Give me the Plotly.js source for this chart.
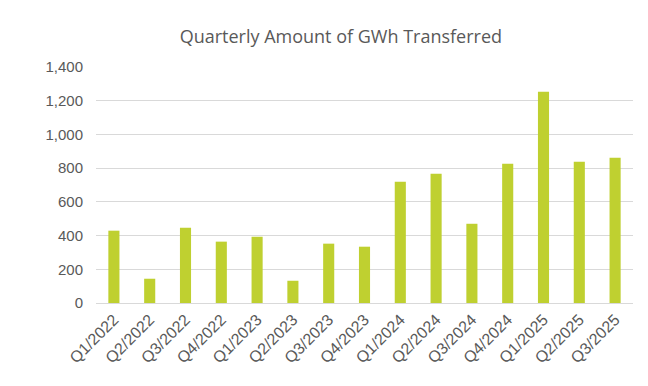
<!DOCTYPE html>
<html>
<head>
<meta charset="utf-8">
<script src="https://cdn.plot.ly/plotly-3.0.1.min.js"></script>
<style>html,body{margin:0;padding:0;background:#fff;}#chart{width:648px;height:386px;}</style>
</head>
<body>
<div id="chart"></div>
<script>
const quarters = ["Q1/2022","Q2/2022","Q3/2022","Q4/2022","Q1/2023","Q2/2023","Q3/2023","Q4/2023","Q1/2024","Q2/2024","Q3/2024","Q4/2024","Q1/2025","Q2/2025","Q3/2025"];
const gwh = [429, 144, 447, 364, 393, 132, 352, 334, 719, 767, 470, 826, 1253, 838, 862];
const yTicks = [0, 200, 400, 600, 800, 1000, 1200, 1400];
const yTickLabels = ["0","200","400","600","800","1,000","1,200","1,400"];

Plotly.newPlot("chart", [{
  type: "bar",
  x: quarters,
  y: gwh,
  marker: {color: "#BFD030"},
  hoverinfo: "x+y"
}], {
  width: 648,
  height: 386,
  paper_bgcolor: "#ffffff",
  plot_bgcolor: "#ffffff",
  margin: {l: 96, r: 15, t: 67, b: 83},
  bargap: 0.69,
  showlegend: false,
  title: {
    text: "Quarterly Amount of GWh Transferred",
    font: {family: "Open Sans, Liberation Sans, Arial, sans-serif", size: 18, color: "#595959"},
    xref: "container", x: 0.526, xanchor: "center", y: 0.905, yanchor: "middle"
  },
  xaxis: {
    type: "category",
    tickangle: -45,
    tickfont: {family: "Liberation Sans, Arial, sans-serif", size: 16, color: "#595959"},
    showgrid: false,
    showline: true,
    linecolor: "#D9D9D9",
    linewidth: 1,
    ticks: "",
    fixedrange: true
  },
  yaxis: {
    range: [0, 1400],
    tickvals: yTicks,
    ticktext: yTickLabels,
    tickfont: {family: "Liberation Sans, Arial, sans-serif", size: 15, color: "#595959"},
    showgrid: true,
    gridcolor: "#D9D9D9",
    gridwidth: 1,
    zeroline: false,
    showline: false,
    ticks: "",
    ticklen: 0,
    ticklabelstandoff: 12,
    fixedrange: true
  }
}, {displayModeBar: false, staticPlot: true});
</script>
</body>
</html>
